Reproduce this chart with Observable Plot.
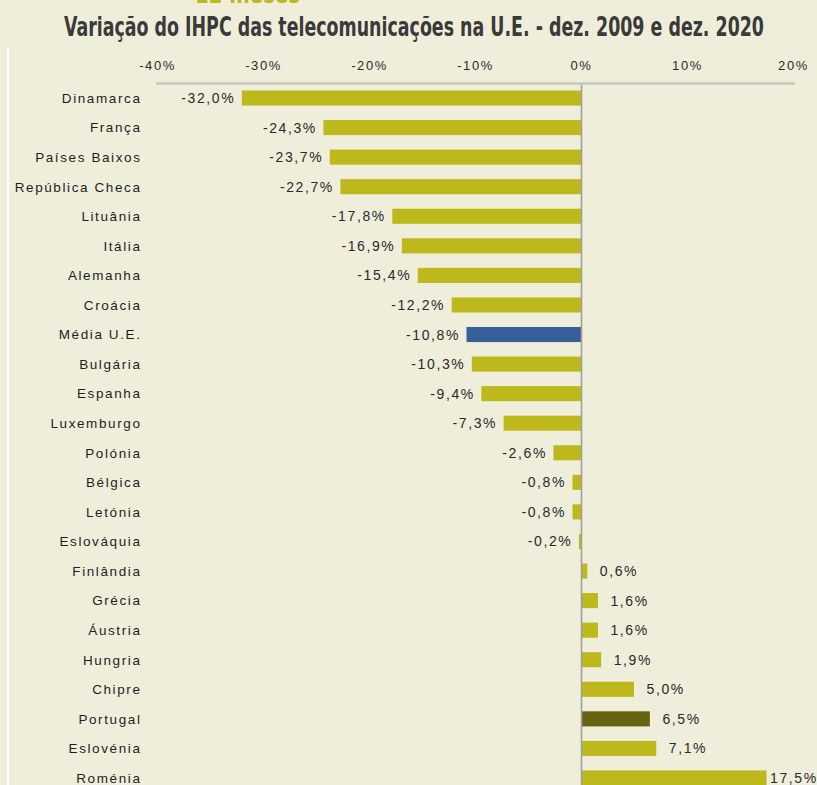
<!DOCTYPE html>
<html>
<head>
<meta charset="utf-8">
<script src="https://cdn.jsdelivr.net/npm/d3@7"></script>
<script src="https://cdn.jsdelivr.net/npm/@observablehq/plot@0.6"></script>
<style>
  html, body { margin: 0; padding: 0; background: #efeedb; }
  #wrap { position: relative; width: 817px; height: 785px; overflow: hidden; background: #efeedb; }
  #sub { position: absolute; left: 195px; top: -20px; font-family: "DejaVu Sans Condensed", "DejaVu Sans", sans-serif; font-stretch: condensed; font-weight: bold; font-size: 25px; color: #bdb81c; white-space: nowrap; transform-origin: 0 0; }
  #title { position: absolute; left: 64px; top: 11px; font-family: "DejaVu Sans Condensed", "DejaVu Sans", sans-serif; font-stretch: condensed; font-weight: bold; font-size: 27px; color: #3a3a3a; white-space: nowrap; transform-origin: 0 0; }
  #vline { position: absolute; left: 7px; top: 48px; width: 2px; bottom: 0; background: #ffffff; }
  #chart { position: absolute; left: 0; top: 40px; }
  #chart svg text { letter-spacing: 1.6px; }
</style>
</head>
<body>
<div id="wrap">
  <div id="sub">12 meses</div>
  <div id="title">Variação do IHPC das telecomunicações na U.E. - dez. 2009 e dez. 2020</div>
  <div id="vline"></div>
  <div id="chart"></div>
</div>
<script>
const countries = ["Dinamarca","França","Países Baixos","República Checa","Lituânia","Itália","Alemanha","Croácia","Média U.E.","Bulgária","Espanha","Luxemburgo","Polónia","Bélgica","Letónia","Eslováquia","Finlândia","Grécia","Áustria","Hungria","Chipre","Portugal","Eslovénia","Roménia"];
const values = [-32.0,-24.3,-23.7,-22.7,-17.8,-16.9,-15.4,-12.2,-10.8,-10.3,-9.4,-7.3,-2.6,-0.8,-0.8,-0.2,0.6,1.6,1.6,1.9,5.0,6.5,7.1,17.5];
const xTicks = [-40,-30,-20,-10,0,10,20];
const euAverage = "Média U.E.";
const highlightCountry = "Portugal";

const colBar = "#bdb81c", colEU = "#35609a", colPT = "#666410";
const data = countries.map((c, i) => ({country: c, value: values[i]}));
const fmt = v => v.toFixed(1).replace(".", ",") + "%";
const fillOf = d => d.country === euAverage ? colEU : d.country === highlightCountry ? colPT : colBar;

const chart = Plot.plot({
  width: 817,
  height: 760,
  marginTop: 43,
  marginBottom: 0,
  marginLeft: 157,
  marginRight: 24,
  style: {background: "transparent", fontFamily: "'Liberation Sans', Arial, sans-serif", fontSize: "13px", color: "#2a2a2a"},
  x: {domain: [-40, 20], axis: null, label: null},
  y: {domain: countries, padding: 0.49, round: false, insetTop: -7, axis: null, label: null},
  color: {type: "identity"},
  marks: [
    Plot.barX(data, {x: "value", y: "country", fill: fillOf}),
    Plot.ruleX([0], {stroke: "#a0a09a", strokeWidth: 1.6}),
    Plot.frame({anchor: "top", stroke: "#c6c6be", strokeWidth: 2.5}),
    Plot.axisX({anchor: "top", label: null, ticks: xTicks, tickSize: 0, tickPadding: 14, tickFormat: d => d + "%", fontSize: 13, fill: "#2a2a2a", style: {letterSpacing: "2.2px"}}),
    Plot.axisY({anchor: "left", label: null, tickSize: 0, tickPadding: 16, fontSize: 13.5, fill: "#1e1e1e"}),
    Plot.text(data.filter(d => d.value < 0), {x: "value", y: "country", text: d => fmt(d.value), textAnchor: "end", dx: -7, fontSize: 14, fill: "#2a2a2a"}),
    Plot.text(data.filter(d => d.value >= 0 && d.value < 15), {x: "value", y: "country", text: d => fmt(d.value), textAnchor: "start", dx: 12, fontSize: 14, fill: "#2a2a2a"}),
    Plot.text(data.filter(d => d.value >= 15), {x: "value", y: "country", text: d => fmt(d.value), textAnchor: "start", dx: 3, fontSize: 14, fill: "#2a2a2a"})
  ]
});
document.getElementById("chart").appendChild(chart);

// condensed title and partly hidden kicker: fit to the reference spans
const t = document.getElementById("title");
t.style.transform = `scaleX(${700 / t.getBoundingClientRect().width})`;
const s = document.getElementById("sub");
s.style.transform = `scaleX(${105 / s.getBoundingClientRect().width})`;
</script>
</body>
</html>
